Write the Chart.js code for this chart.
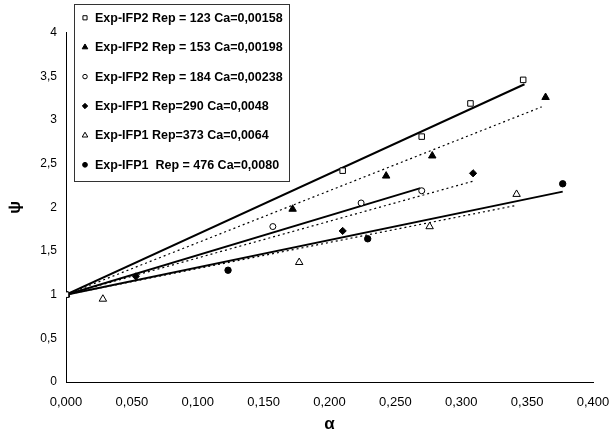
<!DOCTYPE html>
<html>
<head>
<meta charset="utf-8">
<script src="https://cdn.jsdelivr.net/npm/chart.js@4"></script>
<style>
html,body{margin:0;padding:0;background:#fff;}
#wrap{width:610px;height:443px;position:relative;}
</style>
</head>
<body>
<div id="wrap"><canvas id="c" width="610" height="443"></canvas></div>
<script>
// ---- data ----
const labels = [
  "Exp-IFP2 Rep = 123 Ca=0,00158",
  "Exp-IFP2 Rep = 153 Ca=0,00198",
  "Exp-IFP2 Rep = 184 Ca=0,00238",
  "Exp-IFP1 Rep=290 Ca=0,0048",
  "Exp-IFP1 Rep=373 Ca=0,0064",
  "Exp-IFP1  Rep = 476 Ca=0,0080"
];
const alpha123 = [0, 0.210, 0.270, 0.307, 0.347];
const psi123   = [1, 2.42, 2.81, 3.19, 3.46];
const alpha153 = [0, 0.172, 0.243, 0.278, 0.364];
const psi153   = [1, 1.98, 2.36, 2.59, 3.26];
const alpha184 = [0, 0.157, 0.224, 0.270];
const psi184   = [1, 1.78, 2.05, 2.19];
const alpha290 = [0, 0.053, 0.210, 0.309];
const psi290   = [1, 1.21, 1.73, 2.39];
const alpha373 = [0, 0.028, 0.177, 0.276, 0.342];
const psi373   = [1, 0.95, 1.37, 1.78, 2.15];
const alpha476 = [0, 0.123, 0.229, 0.377];
const psi476   = [1, 1.28, 1.64, 2.27];

// trend lines (start and end of each fitted line)
const fitAlpha123 = [0, 0.348]; const fitPsi123 = [1, 3.41];
const fitAlpha153 = [0, 0.361]; const fitPsi153 = [1, 3.15];
const fitAlpha184 = [0, 0.269]; const fitPsi184 = [1, 2.22];
const fitAlpha290 = [0, 0.309]; const fitPsi290 = [1, 2.30];
const fitAlpha373 = [0, 0.341]; const fitPsi373 = [1, 2.02];
const fitAlpha476 = [0, 0.377]; const fitPsi476 = [1, 2.18];

const xTicks = [0, 0.05, 0.1, 0.15, 0.2, 0.25, 0.3, 0.35, 0.4];
const yTicks = [0, 0.5, 1, 1.5, 2, 2.5, 3, 3.5, 4];

// ---- helpers ----
const pts = (xs, ys) => xs.map((x, i) => ({x: x, y: ys[i]}));

const markerStyles = [
  {pointStyle: 'rect',     radius: 3.9, bg: '#fff', border: '#000'},
  {pointStyle: 'triangle', radius: 4.3, bg: '#000', border: '#000'},
  {pointStyle: 'circle',   radius: 3,   bg: '#fff', border: '#000'},
  {pointStyle: 'rectRot',  radius: 3.6, bg: '#000', border: '#000'},
  {pointStyle: 'triangle', radius: 4.3, bg: '#fff', border: '#000'},
  {pointStyle: 'circle',   radius: 3.2, bg: '#000', border: '#000'}
];
const seriesData = [
  pts(alpha123, psi123), pts(alpha153, psi153), pts(alpha184, psi184),
  pts(alpha290, psi290), pts(alpha373, psi373), pts(alpha476, psi476)
];
const fitData = [
  pts(fitAlpha123, fitPsi123), pts(fitAlpha153, fitPsi153), pts(fitAlpha184, fitPsi184),
  pts(fitAlpha290, fitPsi290), pts(fitAlpha373, fitPsi373), pts(fitAlpha476, fitPsi476)
];
const fitSolid = [true, false, true, false, false, true];

const datasets = [];
fitData.forEach((d, i) => {
  datasets.push({
    type: 'line', data: d, label: 'fit' + i,
    borderColor: '#000', borderWidth: fitSolid[i] ? 2 : 1.2,
    borderDash: fitSolid[i] ? [] : [2, 3],
    pointRadius: 0, fill: false, tension: 0, order: 2
  });
});
seriesData.forEach((d, i) => {
  const m = markerStyles[i];
  datasets.push({
    type: 'scatter', data: d, label: labels[i],
    pointStyle: m.pointStyle, pointRadius: m.radius,
    pointBackgroundColor: m.bg, pointBorderColor: m.border, pointBorderWidth: 1,
    showLine: false, order: 1
  });
});

const fmtComma = (v, dec) => v.toFixed(dec).replace('.', ',');

const legendPlugin = {
  id: 'boxLegend',
  afterDatasetsDraw(chart) {
    const ctx = chart.ctx;
    const x0 = 74, y0 = 4, w = 215, h = 177;
    ctx.save();
    ctx.fillStyle = '#fff';
    ctx.fillRect(x0, y0, w, h);
    ctx.strokeStyle = '#333';
    ctx.lineWidth = 1;
    ctx.strokeRect(x0 + 0.5, y0 + 0.5, w, h);
    ctx.font = 'bold 12.5px "Liberation Sans", Arial, sans-serif';
    ctx.textBaseline = 'middle';
    labels.forEach((lab, i) => {
      const cy = 17.8 + i * 29.4;
      const m = markerStyles[i];
      ctx.fillStyle = m.bg;
      ctx.strokeStyle = m.border;
      ctx.lineWidth = 1;
      Chart.helpers.drawPoint(ctx, {pointStyle: m.pointStyle, radius: m.radius * 0.75, borderWidth: 1}, 85, cy);
      ctx.fillStyle = '#000';
      ctx.fillText(lab, 95, cy + 0.5);
    });
    ctx.restore();
  }
};

new Chart(document.getElementById('c'), {
  type: 'scatter',
  data: {datasets: datasets},
  options: {
    responsive: false,
    animation: false,
    layout: {padding: {top: 32.7, right: 0, left: 0, bottom: 0}},
    plugins: {legend: {display: false}, tooltip: {enabled: false}},
    scales: {
      x: {
        type: 'linear', min: 0, max: 0.4,
        afterBuildTicks: s => { s.ticks = xTicks.map(v => ({value: v})); },
        afterFit: s => { s.height = 443 - 382; s.paddingRight = 17; s.paddingLeft = 0; },
        grid: {display: false, drawTicks: true, tickLength: 5, tickColor: '#000'},
        border: {color: '#000', width: 1},
        ticks: {
          color: '#000', padding: 8, maxRotation: 0,
          font: {family: '"Liberation Sans", Arial, sans-serif', size: 13},
          callback: v => fmtComma(v, 3)
        },
        title: {
          display: true, text: 'α', color: '#000', padding: {top: 0, bottom: 8},
          font: {family: '"Liberation Sans", Arial, sans-serif', size: 17, weight: 'bold'}
        }
      },
      y: {
        type: 'linear', min: 0, max: 4,
        afterBuildTicks: s => { s.ticks = yTicks.map(v => ({value: v})); },
        afterFit: s => { s.width = 66; s.paddingTop = 0; s.paddingBottom = 0; },
        grid: {display: false, drawTicks: true, tickLength: 6, tickColor: '#000'},
        border: {color: '#000', width: 1},
        ticks: {
          color: '#000', padding: 3,
          font: {family: '"Liberation Sans", Arial, sans-serif', size: 12},
          callback: v => (Number.isInteger(v) ? String(v) : fmtComma(v, 1))
        },
        title: {
          display: true, text: 'ψ', color: '#000', padding: {top: 5, bottom: 0},
          font: {family: '"Liberation Sans", Arial, sans-serif', size: 17, weight: 'bold'}
        }
      }
    }
  },
  plugins: [legendPlugin]
});
</script>
</body>
</html>
